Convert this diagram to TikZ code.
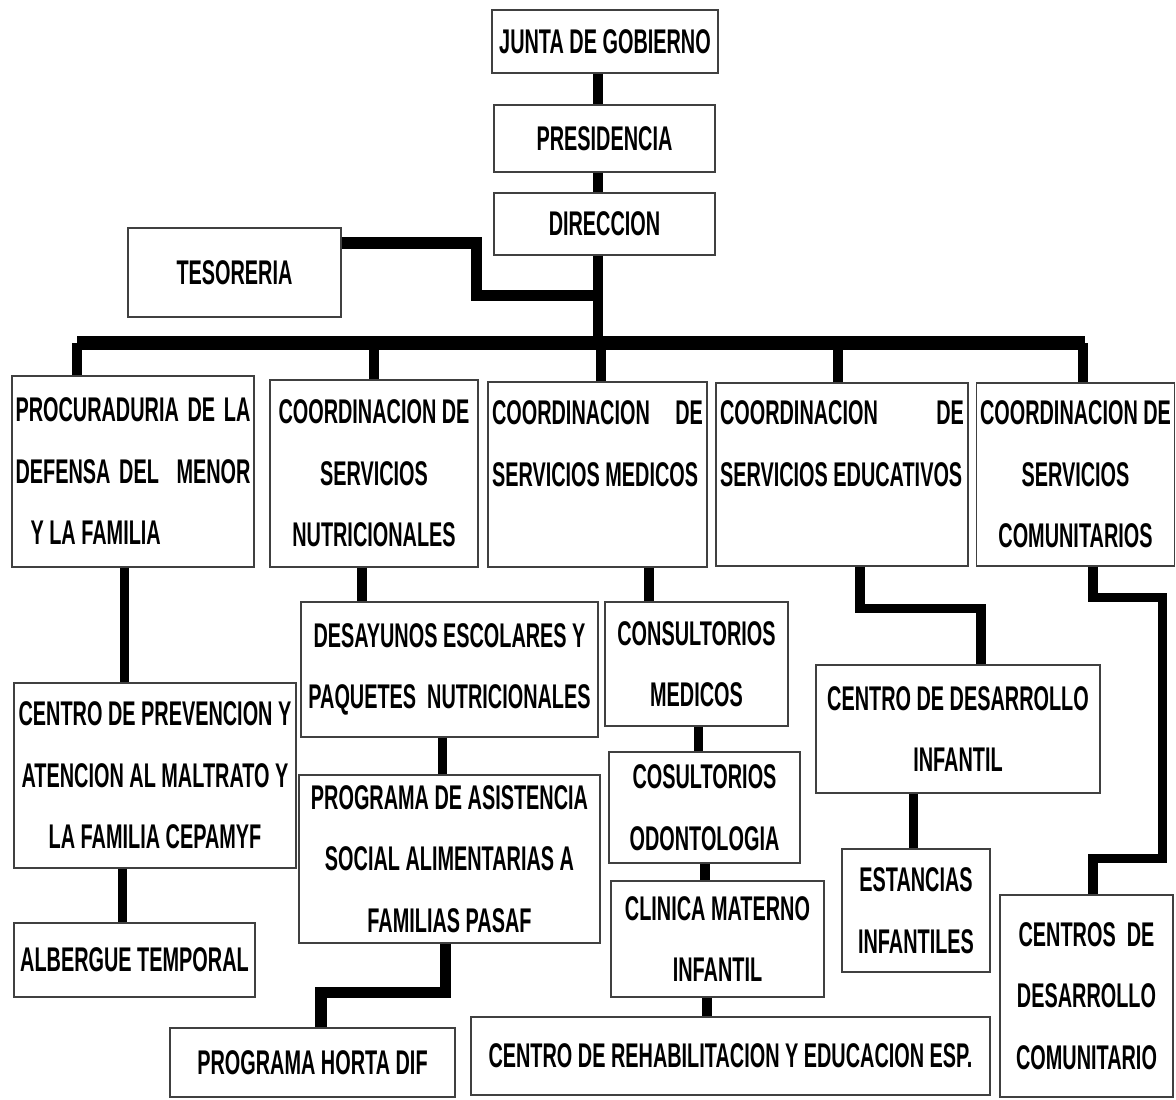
\documentclass[tikz,border=0pt]{standalone}
\usepackage{fontspec}
\newfontfamily\orgfont[FakeStretch=0.58]{Liberation Sans}
\usetikzlibrary{positioning, calc}

\newcommand{\spreadline}[2]{\makebox[#1][s]{#2}}

\tikzset{
  box/.style={draw=black!75, line width=0.7pt, inner sep=2pt, align=center,
    font=\orgfont\bfseries\fontsize{19.5}{35}\selectfont},
  link/.style={line width=5.5pt, black},
  bus/.style={line width=7.5pt, black},
}

\begin{document}
\begin{tikzpicture}[x=0.02cm, y=-0.02cm]
    \useasboundingbox (0,0) rectangle (1176,1099);

    % top of the chart
    \node[box, minimum width=4.52cm, minimum height=1.26cm] (junta) at (605,41.5) {JUNTA DE GOBIERNO};
    \node[box, minimum width=4.42cm, minimum height=1.34cm] (presid) at (604.5,138.5) {PRESIDENCIA};
    \node[box, minimum width=4.42cm, minimum height=1.24cm] (direc) at (604.5,224) {DIRECCION};
    \node[box, minimum width=4.26cm, minimum height=1.78cm] (tesor) at (234.5,272.5) {TESORERIA};

    % coordinations
    \node[box, align=left, minimum width=4.84cm, minimum height=3.82cm] (procu) at (133,471.5)
        {\spreadline{4.7cm}{PROCURADURIA DE LA}\\ \spreadline{4.7cm}{DEFENSA DEL \ MENOR}\\ \hspace*{0.3cm}Y LA FAMILIA};
    \node[box, minimum width=4.16cm, minimum height=3.74cm] (cnutri) at (374,473.5)
        {COORDINACION DE\\ SERVICIOS\\ NUTRICIONALES};
    \node[box, align=left, minimum width=4.38cm, minimum height=3.70cm] (cmedic) at (597.5,474.5)
        {\spreadline{4.22cm}{COORDINACION\hfill DE}\\ SERVICIOS MEDICOS\\ ~};
    \node[box, align=left, minimum width=5.04cm, minimum height=3.66cm] (ceduca) at (842,474.5)
        {\spreadline{4.88cm}{COORDINACION\hfill DE}\\ SERVICIOS EDUCATIVOS\\ ~};
    \node[box, minimum width=3.94cm, minimum height=3.66cm] (ccomun) at (1075.5,474.5)
        {COORDINACION DE\\ SERVICIOS\\ COMUNITARIOS};

    % programs
    \node[box, minimum width=5.64cm, minimum height=3.70cm] (cepamyf) at (155,775.5)
        {CENTRO DE PREVENCION Y\\ ATENCION AL MALTRATO Y\\ LA FAMILIA CEPAMYF};
    \node[box, minimum width=4.82cm, minimum height=1.48cm] (alberg) at (134.5,960) {ALBERGUE TEMPORAL};
    \node[box, minimum width=5.94cm, minimum height=2.70cm] (desayu) at (449.5,669.5)
        {DESAYUNOS ESCOLARES Y\\ PAQUETES \ NUTRICIONALES};
    \node[box, minimum width=6.02cm, minimum height=3.36cm] (pasaf) at (449.5,859)
        {PROGRAMA DE ASISTENCIA\\ SOCIAL ALIMENTARIAS A\\ FAMILIAS PASAF};
    \node[box, minimum width=5.70cm, minimum height=1.38cm] (horta) at (312.5,1062.5) {PROGRAMA HORTA DIF};
    \node[box, minimum width=3.66cm, minimum height=2.48cm] (consmed) at (696.5,664) {CONSULTORIOS\\ MEDICOS};
    \node[box, minimum width=3.82cm, minimum height=2.22cm] (odonto) at (704.5,807.5) {COSULTORIOS\\ ODONTOLOGIA};
    \node[box, minimum width=4.26cm, minimum height=2.32cm] (clinica) at (717.5,939) {CLINICA MATERNO\\ INFANTIL};
    \node[box, minimum width=10.38cm, minimum height=1.56cm] (rehab) at (730.5,1056)
        {CENTRO DE REHABILITACION Y EDUCACION ESP.};
    \node[box, minimum width=5.68cm, minimum height=2.56cm] (cdi) at (958,729) {CENTRO DE DESARROLLO\\ INFANTIL};
    \node[box, minimum width=2.96cm, minimum height=2.46cm] (estanc) at (916,910.5) {ESTANCIAS\\ INFANTILES};
    \node[box, minimum width=3.46cm, minimum height=4.04cm] (cdc) at (1086.5,996)
        {CENTROS \ DE\\ DESARROLLO\\ COMUNITARIO};

    % connectors
    \coordinate (busL) at (77,343);
    \coordinate (busR) at (1085,343);
    \coordinate (tjoin) at ($(direc.south)+(-6.5,40)$);

    \draw[link] ($(junta.south)+(-7,0)$) -- ($(presid.north)+(-6.5,0)$);
    \draw[link] ($(presid.south)+(-6.5,0)$) -- ($(direc.north)+(-6.5,0)$);
    \draw[link] ($(direc.south)+(-6.5,0)$) coordinate (d) -- (d |- busL);
    \draw[link, line width=6.5pt] ($(tesor.east)+(0,-29.5)$) -- ++(135,0) |- (tjoin);
    \draw[bus] (busL) -- (busR);
    \foreach \n/\dx in {procu/-56, cnutri/0, cmedic/3.5, ceduca/-4, ccomun/7.5}
        \draw[link] ($(\n.north)+(\dx,0)$) coordinate (d) -- (d |- busL);

    \draw[link] ($(procu.south)+(-8.5,0)$) coordinate (d) -- (d |- cepamyf.north);
    \draw[link] ($(cepamyf.south)+(-32.5,0)$) coordinate (d) -- (d |- alberg.north);
    \draw[link] ($(cnutri.south)+(-12,0)$) coordinate (d) -- (d |- desayu.north);
    \draw[link] ($(desayu.south)+(-7,0)$) coordinate (d) -- (d |- pasaf.north);
    \draw[link, line width=6.5pt] ($(pasaf.south)+(-4,0)$) -- ++(0,49) -| ($(horta.north)+(8.5,0)$);
    \draw[link] ($(cmedic.south)+(51.5,0)$) coordinate (d) -- (d |- consmed.north);
    \draw[link] ($(consmed.south)+(2,0)$) coordinate (d) -- (d |- odonto.north);
    \draw[link] ($(odonto.south)+(0.5,0)$) coordinate (d) -- (d |- clinica.north);
    \draw[link] ($(clinica.south)+(-10.5,0)$) coordinate (d) -- (d |- rehab.north);
    \draw[link] ($(ceduca.south)+(18,0)$) -- ++(0,42) -| ($(cdi.north)+(23,0)$);
    \draw[link] ($(cdi.south)+(-44.5,0)$) coordinate (d) -- (d |- estanc.north);
    \draw[link] ($(ccomun.south)+(17.5,0)$) -- ++(0,31) -- ++(69.5,0) -- ++(0,261) -| ($(cdc.north)+(6.5,0)$);

\end{tikzpicture}
\end{document}
